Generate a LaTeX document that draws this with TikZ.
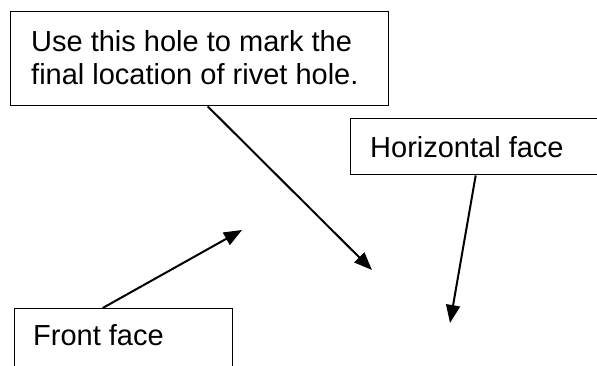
\documentclass[tikz,border=0pt]{standalone}
\usepackage{fontspec}
\setmainfont{Liberation Sans}
\usetikzlibrary{arrows.meta}
\begin{document}
\begin{tikzpicture}[x=1pt,y=-1pt,
  box/.style={draw=black,line width=1.4pt,fill=none,inner sep=0pt,anchor=north west},
  lbl/.style={anchor=base west,inner sep=0pt,font=\fontsize{29}{33.4}\selectfont},
  arr/.style={line width=2pt,-{Triangle[length=18pt,width=14pt]}}]
\path[use as bounding box,clip] (0,0) rectangle (597,365);
\node[box,minimum width=378pt,minimum height=94pt] (top) at (10,11) {};
\node[box,minimum width=270pt,minimum height=56pt] (hor) at (350,118) {};
\node[box,minimum width=218pt,minimum height=80pt] (front) at (14,308) {};
\node[lbl] (l1) at (31,51) {Use this hole to mark the};
\node[lbl] (l2) at (31,84.5) {final location of rivet hole.};
\node[lbl] (l3) at (370,157) {Horizontal face};
\node[lbl] (l4) at (33,345) {Front face};
\coordinate (tA) at (372,270);
\coordinate (tB) at (450,323);
\coordinate (tC) at (242,230);
\draw[arr] ([xshift=8pt]top.south) -- (tA);
\draw[arr] ([xshift=-10pt]hor.south) -- (tB);
\draw[arr] ([xshift=-21pt]front.north) -- (tC);
\end{tikzpicture}
\end{document}
